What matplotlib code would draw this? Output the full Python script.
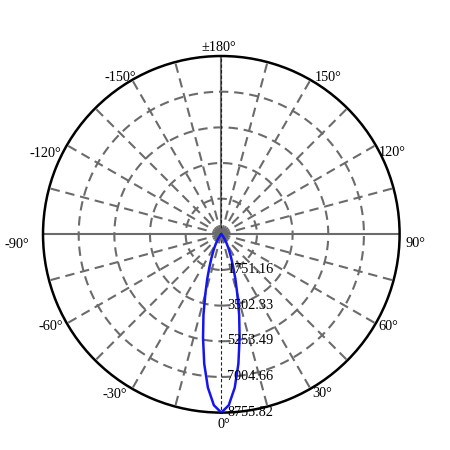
import numpy as np
import matplotlib
matplotlib.use('Agg')
import matplotlib.pyplot as plt
from matplotlib import transforms

# Luminous intensity (cd), symmetric beam
angles_deg = [0, 2.5, 5, 7.5, 10, 12.5, 15, 17.5, 20, 22.5, 25, 27.5, 30,
              35, 40, 45, 50, 55, 90, 180]
intensity = [8755.82, 8400, 7560, 6420, 5170, 4050, 3030, 2300, 1700, 1280,
             960, 730, 540, 270, 110, 40, 10, 0, 0, 0]

r_ticks = [1751.16, 3502.33, 5253.49, 7004.66, 8755.82]
r_max = 8755.82
theta_ticks = [0, 30, 60, 90, 120, 150, 180, 210, 240, 270, 300, 330]
theta_labels = ['0°', '30°', '60°', '90°', '120°', '150°', '±180°',
                '-150°', '-120°', '-90°', '-60°', '-30°']
# pixel offsets of each angle label from the outer circle (right, down)
label_offsets = [(3, 10.7), (11.8, 3.3), (13, 1.5), (16.1, 7.4), (16.8, 5.5),
                 (17.5, -4.4), (-2.8, -10.3), (-12.1, -3.9), (-21.4, 6.5),
                 (-26, 8.4), (-16.4, 1.5), (-17.1, 4)]

plt.rcParams['font.family'] = ['Liberation Serif', 'DejaVu Serif']

fig = plt.figure(figsize=(4.5, 4.5), dpi=100)
ax = fig.add_axes([0.0956, 0.0831, 0.7924, 0.7924], projection='polar')
ax.set_theta_zero_location('S')
ax.set_theta_direction(1)
ax.set_ylim(0, r_max)

grid_col = '#6b6b6b'
dash = (0, (4.5, 2.8))
# dashed rings
ring = np.linspace(0, 2 * np.pi, 361)
for r in r_ticks[:-1]:
    ax.plot(ring, np.full_like(ring, r), color=grid_col, lw=1.5, ls=dash, zorder=1)
# spokes every 15 degrees
for a in range(15, 360, 15):
    t = np.radians(a)
    if a % 90 == 0:
        ax.plot([t, t], [0, r_max], color=grid_col, lw=1.5, zorder=1)
    else:
        ax.plot([t, t], [0, r_max], color=grid_col, lw=1.5, ls=dash, zorder=1)
# thin dark dashed vertical axis
for t in (0, np.pi):
    ax.plot([t, t], [0, r_max], color='#222222', lw=0.8, ls=(0, (3, 2)), zorder=2)
ax.scatter([0], [0], s=60, color=grid_col, zorder=2)

# curve: mirror to negative angles
a = np.array(angles_deg, dtype=float)
v = np.array(intensity, dtype=float)
full_a = np.concatenate([-a[::-1], a[1:]])
full_v = np.concatenate([v[::-1], v[1:]])
ax.plot(np.radians(full_a), full_v, color='#1515f0', lw=1.8, zorder=4)

ax.grid(False)
ax.set_yticks([])
ax.set_xticks([])
ax.spines['polar'].set_linewidth(1.8)
ax.spines['polar'].set_color('black')

for t, lab, (dx, dy) in zip(theta_ticks, theta_labels, label_offsets):
    tr = transforms.offset_copy(ax.transData, fig=fig, x=dx, y=-dy, units='dots')
    ax.text(np.radians(t), r_max, lab, transform=tr, fontsize=10.3,
            ha='center', va='center_baseline', clip_on=False)

for r in r_ticks:
    tr = transforms.offset_copy(ax.transData, fig=fig, x=6, y=2, units='dots')
    ax.text(0, r, f'{r:.2f}', transform=tr, fontsize=10.3, ha='left',
            va='center_baseline', zorder=5, clip_on=False)

fig.savefig('out.png', dpi=100)
